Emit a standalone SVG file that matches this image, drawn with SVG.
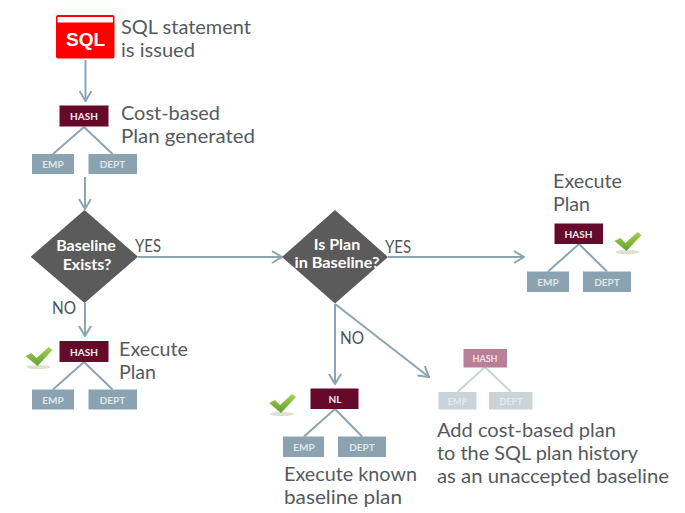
<svg xmlns="http://www.w3.org/2000/svg" width="685" height="513" viewBox="0 0 685 513">
<style>
text{font-family:"Lato","Carlito","Liberation Sans",sans-serif}
.t{font-size:20px;fill:#545a60}
.l{font-size:17px;fill:#4f5357}
.h{fill:#660a2c}
.g{fill:#8ba3b1}
.b{font-size:10px;font-weight:700;fill:#fff;text-anchor:middle;opacity:.92}
.e{font-size:10px;font-weight:700;fill:#dfe6ea;text-anchor:middle}
.d{fill:#5b5b5b}
.q{font-size:16px;font-weight:700;fill:#fff;text-anchor:middle}
.c{fill:none;stroke:#8ba5b2;stroke-width:2}
.r{fill:none;stroke:#8ba5b2;stroke-width:2}
</style>
<defs>
<marker id="a" viewBox="0 0 12 14" refX="11" refY="7" markerWidth="12" markerHeight="14" markerUnits="userSpaceOnUse" orient="auto"><path d="M1 1 L11 7 L1 13" fill="none" stroke="#8ba5b2" stroke-width="2"/></marker>
<linearGradient id="cg" x1="0" y1="0" x2="0" y2="1"><stop offset="0" stop-color="#a5d255"/><stop offset="1" stop-color="#62a02c"/></linearGradient>
<g id="check"><ellipse cx="13" cy="20" rx="12" ry="2" fill="#c9c9b8" opacity=".6"/><path d="M0 9 L6 6 L11 11 L23 0 L27 3 L12 19 Z" fill="url(#cg)"/></g>
</defs>
<g id="connectors">
<path class="c" marker-end="url(#a)" d="M85.500 60V101"/>
<path class="c" marker-end="url(#a)" d="M85 177V209"/>
<path class="c" marker-end="url(#a)" d="M138 257H282"/>
<path class="c" marker-end="url(#a)" d="M388 257H524"/>
<path class="c" marker-end="url(#a)" d="M85 303V336"/>
<path class="c" marker-end="url(#a)" d="M335 304V384"/>
<path class="c" marker-end="url(#a)" d="M335 304L429 377"/>
<path class="r" d="M84 127L53 154M84 127L112.500 154"/>
<path class="r" d="M84 362L53 389.500M84 362L112.500 389.500"/>
<path class="r" d="M335 409L304 436.500M335 409L362 436.500"/>
<path class="r" d="M579 244L548 271.500M579 244L607 271.500"/>
<path d="M485 367L457.500 392M485 367L511 392" fill="none" stroke="#c9d3d8" stroke-width="2"/>
</g>
<g id="sql">
<rect x="56" y="15" width="58.500" height="43.500" rx="2" fill="#f00"/>
<rect x="57.500" y="17" width="55.500" height="5.500" fill="#fff"/>
<text x="85.500" y="46" font-size="19" font-weight="700" fill="#fff" text-anchor="middle" style="font-family:'Liberation Sans',sans-serif">SQL</text>
<text class="t" x="121" y="34" textLength="130" lengthAdjust="spacingAndGlyphs">SQL statement</text>
<text class="t" x="121" y="57" textLength="74" lengthAdjust="spacingAndGlyphs">is issued</text>
</g>
<g id="plan-generated">
<rect class="h" x="59.500" y="105.500" width="49" height="21"/>
<text class="b" x="84" y="120">HASH</text>
<rect class="g" x="32" y="154" width="42" height="20"/>
<text class="e" x="53" y="168">EMP</text>
<rect class="g" x="88.500" y="154" width="48.500" height="20"/>
<text class="e" x="112.500" y="168">DEPT</text>
<text class="t" x="121" y="120" textLength="99" lengthAdjust="spacingAndGlyphs">Cost-based</text>
<text class="t" x="121" y="143" textLength="134" lengthAdjust="spacingAndGlyphs">Plan generated</text>
</g>
<g id="baseline-exists">
<path class="d" d="M84.500 210L138 256.700L84.500 303L30.700 256.700Z"/>
<text class="q" x="86" y="251">Baseline</text>
<text class="q" x="87" y="270">Exists?</text>
<text class="l" x="135" y="252" textLength="26" lengthAdjust="spacingAndGlyphs">YES</text>
<text class="l" x="52" y="314" textLength="24" lengthAdjust="spacingAndGlyphs">NO</text>
</g>
<g id="is-plan-in-baseline">
<path class="d" d="M335 210L388 257L335 303.500L282 257Z"/>
<text class="q" x="337" y="250">Is Plan</text>
<text class="q" x="337" y="268" textLength="85" lengthAdjust="spacingAndGlyphs">in Baseline?</text>
<text class="l" x="385" y="253" textLength="26" lengthAdjust="spacingAndGlyphs">YES</text>
<text class="l" x="340" y="344" textLength="24" lengthAdjust="spacingAndGlyphs">NO</text>
</g>
<g id="execute-yes">
<rect class="h" x="554.500" y="223.500" width="48.500" height="20.500"/>
<text class="b" x="578.500" y="237.500">HASH</text>
<rect class="g" x="527" y="271.500" width="42" height="20.500"/>
<text class="e" x="548" y="285.500">EMP</text>
<rect class="g" x="583" y="271.500" width="48" height="20.500"/>
<text class="e" x="607" y="285.500">DEPT</text>
<text class="t" x="553" y="188" textLength="69" lengthAdjust="spacingAndGlyphs">Execute</text>
<text class="t" x="553" y="211" textLength="37" lengthAdjust="spacingAndGlyphs">Plan</text>
<use href="#check" x="614.500" y="232"/>
</g>
<g id="execute-no">
<rect class="h" x="59.500" y="341" width="49" height="21"/>
<text class="b" x="84" y="355.500">HASH</text>
<rect class="g" x="32" y="389.500" width="42" height="20"/>
<text class="e" x="53" y="403.500">EMP</text>
<rect class="g" x="88.500" y="389.500" width="48.500" height="20"/>
<text class="e" x="112.500" y="403.500">DEPT</text>
<text class="t" x="119" y="356" textLength="69" lengthAdjust="spacingAndGlyphs">Execute</text>
<text class="t" x="119" y="379" textLength="37" lengthAdjust="spacingAndGlyphs">Plan</text>
<use href="#check" x="25.500" y="347"/>
</g>
<g id="known-plan">
<rect class="h" x="310.500" y="388.500" width="48" height="20.500"/>
<text class="b" x="335" y="402.500">NL</text>
<rect class="g" x="283" y="436.500" width="41" height="20.500"/>
<text class="e" x="304" y="450.500">EMP</text>
<rect class="g" x="338" y="436.500" width="48" height="20.500"/>
<text class="e" x="362" y="450.500">DEPT</text>
<text class="t" x="284" y="481" textLength="133" lengthAdjust="spacingAndGlyphs">Execute known</text>
<text class="t" x="284" y="504" textLength="118" lengthAdjust="spacingAndGlyphs">baseline plan</text>
<use href="#check" x="269" y="394"/>
</g>
<g id="unaccepted-plan">
<rect x="463.500" y="349" width="43.500" height="18.500" fill="#b78097"/>
<text x="485" y="361.500" font-size="9" font-weight="700" fill="#f0dfe6" text-anchor="middle">HASH</text>
<rect x="438.500" y="392" width="38" height="17.500" fill="#c9d3d8"/>
<text x="457.500" y="404.500" font-size="9" font-weight="700" fill="#e4eaed" text-anchor="middle">EMP</text>
<rect x="489" y="392" width="43.500" height="17.500" fill="#c9d3d8"/>
<text x="511" y="404.500" font-size="9" font-weight="700" fill="#e4eaed" text-anchor="middle">DEPT</text>
<text class="t" x="437" y="437" textLength="179" lengthAdjust="spacingAndGlyphs">Add cost-based plan</text>
<text class="t" x="437" y="460" textLength="201" lengthAdjust="spacingAndGlyphs">to the SQL plan history</text>
<text class="t" x="437" y="483" textLength="232" lengthAdjust="spacingAndGlyphs">as an unaccepted baseline</text>
</g>
</svg>
